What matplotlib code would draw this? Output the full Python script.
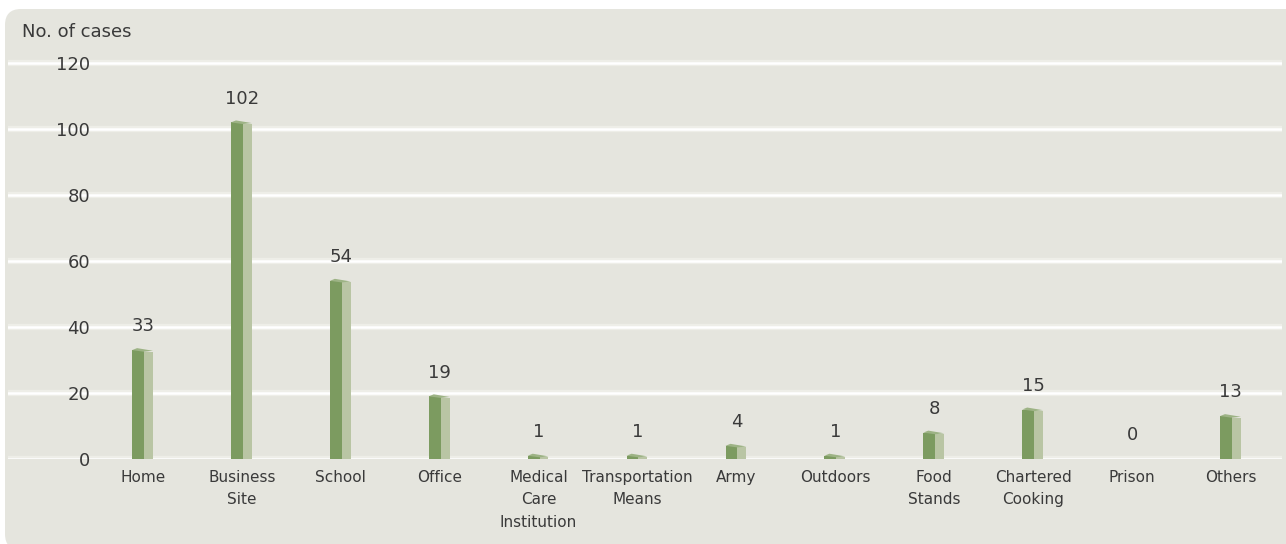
import matplotlib

matplotlib.use("Agg")
import matplotlib.pyplot as plt
from matplotlib.patches import FancyBboxPatch, Polygon
from matplotlib.transforms import IdentityTransform

categories = [
    "Home",
    "Business\nSite",
    "School",
    "Office",
    "Medical\nCare\nInstitution",
    "Transportation\nMeans",
    "Army",
    "Outdoors",
    "Food\nStands",
    "Chartered\nCooking",
    "Prison",
    "Others",
]
cases = [33, 102, 54, 19, 1, 1, 4, 1, 8, 15, 0, 13]
y_ticks = [0, 20, 40, 60, 80, 100, 120]

PANEL = "#e5e5de"
TEXT = "#3a3a3a"
FRONT = "#7c9b60"
SIDE = "#b9c5a4"
TOP = "#9db385"

W, H = 1286, 544
fig = plt.figure(figsize=(W / 100, H / 100), dpi=100, facecolor="white")

# rounded background panel (pixel coords), kept behind the axes
panel = FancyBboxPatch(
    (5, -6),
    W + 40,
    H - 9 + 6,
    boxstyle="round,pad=0,rounding_size=16",
    transform=IdentityTransform(),
    facecolor=PANEL,
    edgecolor="none",
    zorder=-5,
)
fig.patches.append(panel)

# axes: value 0 sits at y=459 px, 3.3 px per case
ax = fig.add_axes([8 / W, (H - 459) / H, (1282 - 8) / W, (125 * 3.3) / H])
ax.set_facecolor("none")
ax.set_xlim((8 - 143) / 98.9, (1282 - 143) / 98.9)
ax.set_ylim(0, 125)
for s in ax.spines.values():
    s.set_visible(False)

ax.set_yticks(y_ticks)
ax.yaxis.grid(True, color="white", linewidth=1.8)
ax.hlines(y_ticks, *ax.get_xlim(), color="#eeeee8", linewidth=4.5, zorder=0.5)
ax.set_axisbelow(True)
ax.tick_params(axis="y", length=0, pad=-59, labelsize=13, labelcolor=TEXT)
for lbl in ax.get_yticklabels():
    lbl.set_horizontalalignment("right")

x = list(range(len(categories)))
ax.set_xticks(x)
ax.set_xticklabels(categories)
ax.tick_params(axis="x", length=0, pad=8, labelsize=11, labelcolor=TEXT)
for lbl in ax.get_xticklabels():
    lbl.set_linespacing(1.6)

# pseudo 3D bars: front face, side face, top face
wf, ws = 0.12, 0.09
for xi, v in zip(x, cases):
    if v <= 0:
        continue
    xl = xi - 0.11
    ax.bar(xl, v, width=wf, align="edge", color=FRONT, zorder=3)
    ax.bar(xl + wf, v - 0.5, width=ws, align="edge", color=SIDE, zorder=3)
    ax.add_patch(
        Polygon(
            [(xl, v), (xl + 0.05, v + 0.6), (xl + wf + ws, v - 0.2), (xl + wf, v - 0.5)],
            closed=True,
            facecolor=TOP,
            edgecolor="none",
            zorder=4,
        )
    )

for xi, v in zip(x, cases):
    ax.annotate(
        str(v),
        (xi, v),
        xytext=(0, 17),
        textcoords="offset points",
        ha="center",
        va="center",
        fontsize=13,
        color=TEXT,
    )

fig.text(22 / W, 1 - 32 / H, "No. of cases", fontsize=13, color=TEXT,
         ha="left", va="center")

fig.savefig("out.png", dpi=100, facecolor="white")
